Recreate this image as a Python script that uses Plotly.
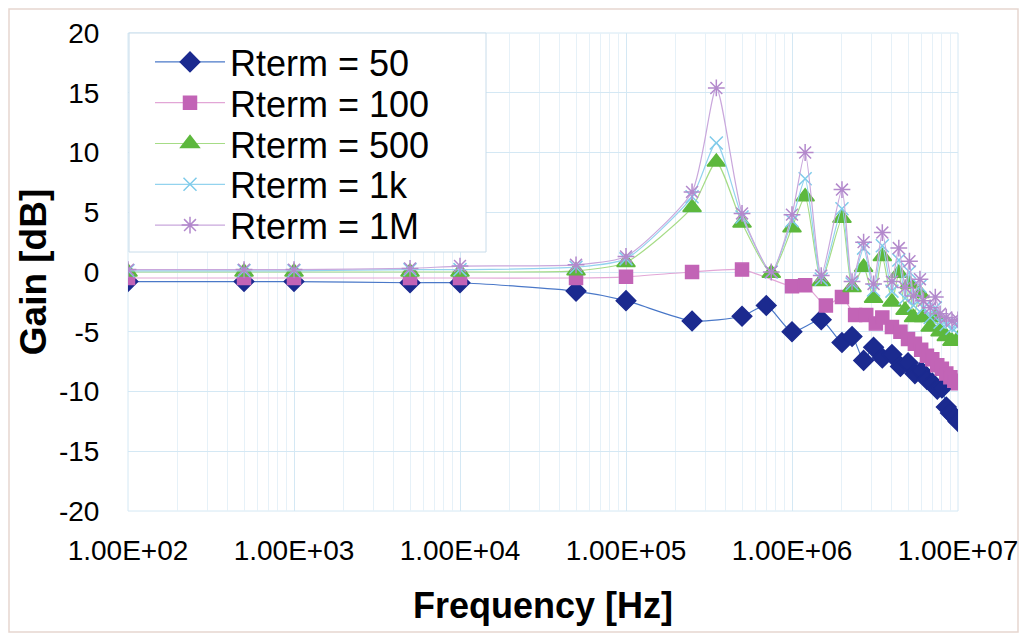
import plotly.graph_objects as go

# ---- data (frequency in Hz, gain in dB) ----
f_50 = [1e2, 5e2, 1e3, 5e3, 1e4, 5e4, 1e5, 2.5e5, 5e5, 7e5, 1e6, 1.5e6, 2e6, 2.3e6, 2.7e6, 3.1e6,
        3.5e6, 4e6, 4.5e6, 5e6, 5.5e6, 6e6, 6.5e6, 7e6, 7.5e6, 8e6, 8.5e6, 9e6, 9.5e6, 1e7]
g_50 = [-0.8, -0.8, -0.8, -0.9, -0.9, -1.6, -2.4, -4.1, -3.7, -2.8, -5.0, -4.0, -5.9, -5.4, -7.4, -6.3,
        -7.2, -6.9, -7.9, -7.6, -8.5, -8.3, -9.0, -9.3, -9.8, -9.7, -11.3, -11.8, -12.1, -12.5]

f_100 = [1e2, 5e2, 1e3, 5e3, 1e4, 5e4, 1e5, 2.5e5, 5e5, 1e6, 1.2e6, 1.6e6, 2e6, 2.4e6, 2.8e6, 3.2e6,
         3.5e6, 4e6, 4.5e6, 5e6, 5.5e6, 6e6, 6.5e6, 7e6, 7.5e6, 8e6, 8.5e6, 9e6, 9.5e6, 1e7]
g_100 = [-0.5, -0.5, -0.5, -0.5, -0.5, -0.5, -0.4, 0.0, 0.2, -1.2, -1.1, -2.8, -2.1, -3.6, -3.6, -4.3,
         -3.8, -4.6, -5.0, -5.6, -6.0, -6.5, -7.0, -7.3, -7.8, -8.1, -8.5, -8.8, -9.1, -9.3]

f_hi = [1e2, 5e2, 1e3, 5e3, 1e4, 5e4, 1e5, 2.5e5, 3.5e5, 5e5, 7.5e5, 1e6, 1.2e6, 1.5e6, 2e6, 2.3e6,
        2.7e6, 3.1e6, 3.5e6, 4e6, 4.4e6, 4.8e6, 5.1e6, 5.4e6, 5.9e6, 6.2e6, 6.8e6, 7.3e6, 7.8e6, 8.5e6,
        9.2e6, 1e7]
g_500 = [0.0, 0.0, 0.0, 0.0, 0.0, 0.1, 0.8, 5.4, 9.2, 4.1, -0.1, 3.7, 6.3, -0.8, 4.5, -1.3,
         0.4, -2.2, 1.3, -2.5, -0.1, -3.2, -1.0, -3.8, -1.8, -3.8, -4.6, -3.8, -5.0, -5.4,
         -5.8, -5.6]
g_1k = [0.1, 0.1, 0.1, 0.2, 0.2, 0.4, 1.1, 6.3, 10.8, 4.6, 0.0, 4.3, 7.8, -0.6, 5.3, -1.0,
        2.0, -1.5, 2.2, -1.6, 1.0, -2.2, 0.0, -2.8, -1.2, -3.0, -3.8, -3.0, -4.2, -4.4,
        -4.7, -4.5]
g_1M = [0.2, 0.2, 0.2, 0.3, 0.5, 0.6, 1.3, 6.7, 15.4, 4.9, 0.0, 4.8, 10.0, -0.3, 6.9, -0.8,
        2.5, -1.0, 3.3, -0.8, 2.0, -1.3, 0.9, -2.0, -0.6, -2.4, -3.0, -2.1, -3.5, -3.8,
        -4.1, -4.0]

x_tickvals = [1e2, 1e3, 1e4, 1e5, 1e6, 1e7]
x_ticktext = ["1.00E+02", "1.00E+03", "1.00E+04", "1.00E+05", "1.00E+06", "1.00E+07"]
y_tickvals = [20, 15, 10, 5, 0, -5, -10, -15, -20]
y_ticktext = ["20", "15", "10", "5", "0", "-5", "-10", "-15", "-20"]

series = [
    ("Rterm = 50", f_50, g_50, "diamond", 15, "#1b2a8f", "#4a78c8"),
    ("Rterm = 100", f_100, g_100, "square", 13, "#c264b6", "#e2a6d6"),
    ("Rterm = 500", f_hi, g_500, "triangle-up", 16, "#5db83d", "#a6dc86"),
    ("Rterm = 1k", f_hi, g_1k, "x-thin-open", 13, "#7fcbea", "#93d3ee"),
    ("Rterm = 1M", f_hi, g_1M, "asterisk-open", 14, "#b389cc", "#c9a7dc"),
]

# ---- layout constants (pixels; the page adds an 8px body margin) ----
OFF = 8
W, H = 1027 - 2 * OFF, 641 - 2 * OFF
P_LEFT, P_RIGHT, P_TOP, P_BOT = 128, 958, 33, 511   # plot area as seen in the window
L, R = P_LEFT - OFF, W - (P_RIGHT - OFF)
T, B = P_TOP - OFF, H - (P_BOT - OFF)
PW, PH = P_RIGHT - P_LEFT, P_BOT - P_TOP
grid = "#d4e8f4"
font = "Liberation Sans, Arial, sans-serif"
leg_left_px, leg_right_px, leg_top_px, leg_bot_px = 129, 486, 33, 252
leg_row0_px, leg_row_step = 62, 40.8
leg_item_x_px = 150


def px_x(p):
    return (p - P_LEFT) / PW


def px_y(p):
    return (P_BOT - p) / PH


fig = go.Figure()
legend_layouts = {}
for i, (name, fx, gy, sym, size, mcol, lcol) in enumerate(series):
    lname = "legend" if i == 0 else f"legend{i + 1}"
    fig.add_trace(go.Scatter(
        x=fx, y=gy, name=name, mode="lines+markers", legend=lname,
        line=dict(color=lcol, width=1.2, shape="spline", smoothing=0.6),
        marker=dict(symbol=sym, size=size, color=mcol,
                    line=dict(color=mcol, width=1.5)),
    ))
    legend_layouts[lname] = dict(
        x=px_x(leg_item_x_px), y=px_y(leg_row0_px + i * leg_row_step),
        xanchor="left", yanchor="middle",
        bgcolor="rgba(0,0,0,0)", borderwidth=0,
        font=dict(size=36, family=font, color="black"),
        itemwidth=70, tracegroupgap=0,
    )

fig.update_layout(
    width=W, height=H,
    margin=dict(l=L, r=R, t=T, b=B),
    paper_bgcolor="white", plot_bgcolor="white",
    font=dict(family=font, color="black", size=28),
    showlegend=True,
    xaxis=dict(
        type="log", range=[2, 7], automargin=False,
        tickmode="array", tickvals=x_tickvals, ticktext=x_ticktext,
        showgrid=True, gridcolor=grid, gridwidth=1,
        minor=dict(showgrid=True, gridcolor="#e6f1f8", dtick="D1", ticks=""),
        ticks="outside", ticklen=14, tickcolor="rgba(0,0,0,0)",
        tickfont=dict(size=28, family=font),
        showline=False, zeroline=False,
        title=dict(text="<b>Frequency [Hz]</b>", font=dict(size=36, family=font), standoff=28),
    ),
    yaxis=dict(
        range=[-20, 20], tickmode="array", tickvals=y_tickvals, ticktext=y_ticktext,
        automargin=False,
        showgrid=True, gridcolor=grid, gridwidth=1,
        ticks="outside", ticklen=22, tickcolor="rgba(0,0,0,0)",
        tickfont=dict(size=28, family=font),
        showline=False, zeroline=False,
        title=dict(text="<b>Gain [dB]</b>", font=dict(size=37, family=font), standoff=0),
    ),
    **legend_layouts,
)

# legend frame
fig.add_shape(type="rect", xref="paper", yref="paper",
              x0=px_x(leg_left_px), x1=px_x(leg_right_px),
              y0=px_y(leg_bot_px), y1=px_y(leg_top_px),
              line=dict(color="#c8dcea", width=1), fillcolor="white", layer="above")
# outer frame of the picture
fig.add_shape(type="rect", xref="paper", yref="paper",
              x0=px_x(OFF + 1), x1=px_x(OFF + W - 1), y0=px_y(OFF + H - 1), y1=px_y(OFF + 1),
              line=dict(color="#e6d6cf", width=1.5), fillcolor="rgba(0,0,0,0)", layer="below")
# right / top edges of plotting area
fig.add_shape(type="rect", xref="paper", yref="paper", x0=0, x1=1, y0=0, y1=1,
              line=dict(color=grid, width=1), layer="below")

fig.write_html("out.html")
